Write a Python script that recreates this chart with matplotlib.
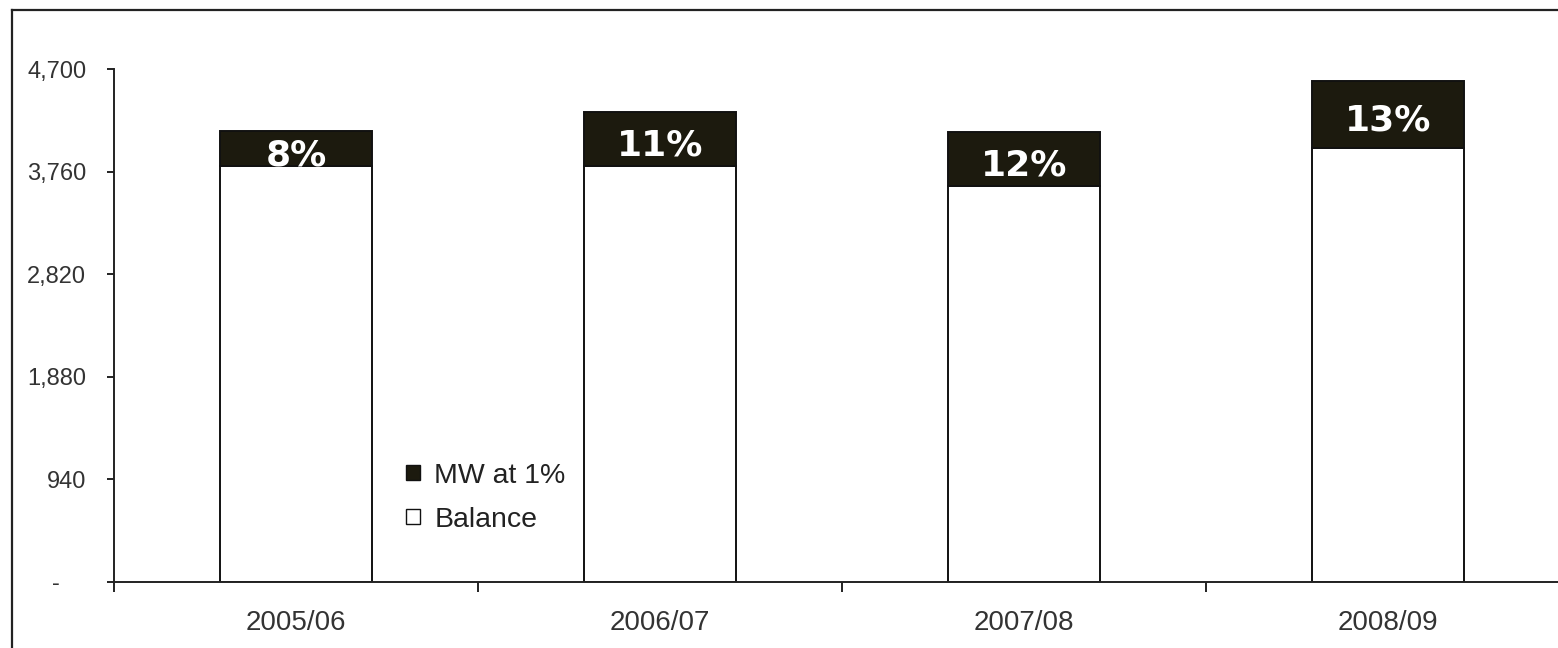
import matplotlib
matplotlib.use("Agg")
import matplotlib.pyplot as plt
from matplotlib.patches import Patch
from matplotlib.lines import Line2D
import numpy as np

# ---- data ----
categories = ["2005/06", "2006/07", "2007/08", "2008/09"]
balance = [3813, 3813, 3630, 3981]
mw_at_1pct = [321, 493, 492, 614]
pct_labels = ["8%", "11%", "12%", "13%"]
yticks = [0, 940, 1880, 2820, 3760, 4700]
ytick_labels = ["-    ", "940", "1,880", "2,820", "3,760", "4,700"]

W, H = 1558, 648
fig = plt.figure(figsize=(W / 100, H / 100), dpi=100)
fig.patch.set_facecolor("white")

ax_left, ax_right, ax_bottom, ax_top = 114, 1558, 582, 69.3
ax = fig.add_axes([ax_left / W, 1 - ax_bottom / H, (ax_right - ax_left) / W, (ax_bottom - ax_top) / H])

x = np.arange(len(categories))
bw = 0.42
lw = 1.4
ax.bar(x, balance, width=bw, color="white", edgecolor="#111111", linewidth=lw, zorder=2)
ax.bar(x, mw_at_1pct, width=bw, bottom=balance, color="#1c1a0e", edgecolor="#111111", linewidth=lw, zorder=2)

for xi, b, m, lab in zip(x, balance, mw_at_1pct, pct_labels):
    ax.annotate(lab, (xi, b + m / 2), xytext=(0, -12), textcoords="offset points",
                ha="center", va="baseline", color="white", fontsize=26,
                fontweight="bold", family="DejaVu Sans", zorder=3)

for s in ["top", "right"]:
    ax.spines[s].set_visible(False)
for s in ["left", "bottom"]:
    ax.spines[s].set_linewidth(1.4)
    ax.spines[s].set_color("#222222")

ax.set_yticks(yticks)
ax.set_yticklabels(ytick_labels, fontsize=17, family="Liberation Sans", color="#333333")
ax.tick_params(axis="y", direction="out", length=5, width=1.4, color="#222222", pad=15)

ax.set_xticks(np.arange(-0.5, len(categories) - 1, 1.0))
ax.set_xticklabels([])
ax.tick_params(axis="x", which="major", direction="out", length=7, width=1.4, color="#222222")
ax.set_xticks(x, minor=True)
ax.set_xticklabels(categories, minor=True, fontsize=20, family="Liberation Sans", color="#333333")
ax.tick_params(axis="x", which="minor", length=0, pad=20)

ax.set_xlim(-0.5, -0.5 + (ax_right - ax_left) / 364)
ax.set_ylim(0, 4700)

handles = [Patch(facecolor="#1c1a0e", edgecolor="#111111", linewidth=1.0),
           Patch(facecolor="white", edgecolor="#111111", linewidth=1.0)]
leg = ax.legend(handles, ["MW at 1%", "Balance"], loc="upper left",
                bbox_to_anchor=(406 / W, 1 - 463 / H), bbox_transform=fig.transFigure,
                frameon=False, prop={"family": "Liberation Sans", "size": 20.5},
                handlelength=0.5, handleheight=0.42, handletextpad=0.5,
                labelspacing=0.62, borderpad=0, borderaxespad=0)
for t in leg.get_texts():
    t.set_color("#222222")

# outer frame (left and top edges visible)
fig.add_artist(Line2D([12 / W, 12 / W], [0, 1 - 10 / H], transform=fig.transFigure,
                      color="#222222", linewidth=1.6))
fig.add_artist(Line2D([12 / W, 1], [1 - 10 / H, 1 - 10 / H], transform=fig.transFigure,
                      color="#222222", linewidth=1.6))

fig.savefig("out.png", dpi=100, facecolor="white")
